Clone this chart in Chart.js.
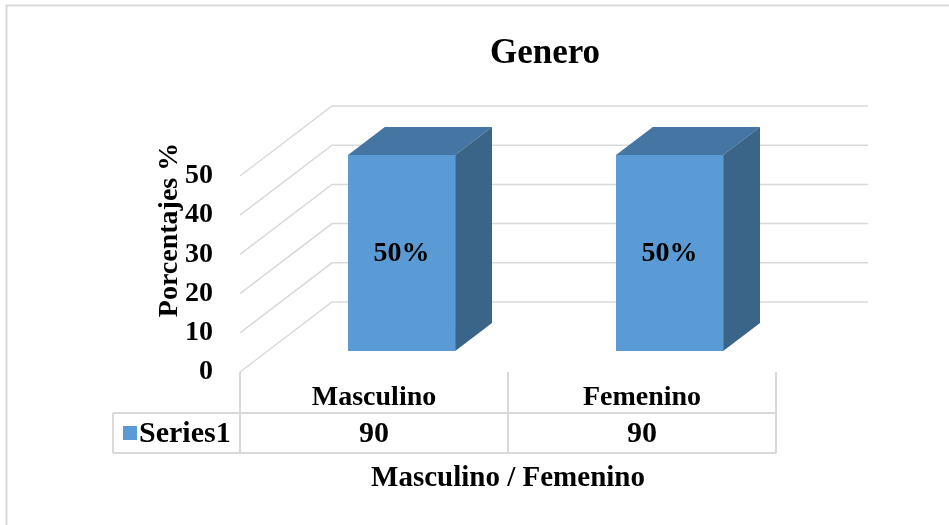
<!DOCTYPE html>
<html>
<head>
<meta charset="utf-8">
<script src="https://cdn.jsdelivr.net/npm/chart.js@4/dist/chart.umd.min.js"></script>
<style>
  html, body { margin: 0; padding: 0; background: #fff; }
  #wrap { width: 949px; height: 525px; position: relative; }
</style>
</head>
<body>
<div id="wrap"><canvas id="c" width="949" height="525"></canvas></div>
<script>
// ---- data ----
const chartTitle = 'Genero';
const categories = ['Masculino', 'Femenino'];
const seriesName = 'Series1';
const values = [90, 90];
const yTitle = 'Porcentajes %';
const xTitle = 'Masculino / Femenino';
const yMin = 0;
const yMax = 50;
const yStep = 10;

// ---- style ----
const FONT = '"Liberation Serif", "Times New Roman", serif';
const FRONT_COLOR = '#5B9BD5';
const TOP_COLOR = '#4575A2';
const SIDE_COLOR = '#3A6488';
const GRID_COLOR = '#d9d9d9';
const DEPTH = { dx: 92, dy: -70 };
const BAR_FRONT = 0.3, BAR_BACK = 0.7;

const total = values.reduce((s, v) => s + v, 0);

const threeD = {
  id: 'threeD',
  beforeDraw(chart) {
    const { ctx, width, height } = chart;
    ctx.save();
    ctx.fillStyle = '#fff';
    ctx.fillRect(0, 0, width, height);
    ctx.strokeStyle = GRID_COLOR;
    ctx.lineWidth = 2;
    ctx.strokeRect(6.5, 5.5, width + 20, height + 20);
    ctx.restore();
  },
  beforeDatasetsDraw(chart) {
    const { ctx, chartArea: a, scales: { y } } = chart;
    ctx.save();
    ctx.strokeStyle = GRID_COLOR;
    ctx.lineWidth = 1.5;
    y.ticks.forEach(t => {
      const py = y.getPixelForValue(t.value);
      ctx.beginPath();
      ctx.moveTo(a.left, py);
      ctx.lineTo(a.left + DEPTH.dx, py + DEPTH.dy);
      ctx.lineTo(a.right + DEPTH.dx, py + DEPTH.dy);
      ctx.stroke();
    });
    ctx.restore();
    ctx.save();
    ctx.translate(DEPTH.dx * BAR_FRONT, DEPTH.dy * BAR_FRONT);
  },
  afterDatasetsDraw(chart) {
    const { ctx, chartArea: a } = chart;
    ctx.restore();
    const meta = chart.getDatasetMeta(0);
    const fx = DEPTH.dx * BAR_FRONT, fy = DEPTH.dy * BAR_FRONT;
    const bx = DEPTH.dx * (BAR_BACK - BAR_FRONT), by = DEPTH.dy * (BAR_BACK - BAR_FRONT);
    ctx.save();
    meta.data.forEach((bar, i) => {
      const p = bar.getProps(['x', 'y', 'base', 'width'], true);
      const top = Math.max(p.y, a.top) + fy;
      const bottom = p.base + fy;
      const left = p.x - p.width / 2 + fx, right = p.x + p.width / 2 + fx;
      ctx.fillStyle = TOP_COLOR;
      ctx.beginPath();
      ctx.moveTo(left, top);
      ctx.lineTo(left + bx, top + by);
      ctx.lineTo(right + bx, top + by);
      ctx.lineTo(right, top);
      ctx.closePath();
      ctx.fill();
      ctx.fillStyle = SIDE_COLOR;
      ctx.beginPath();
      ctx.moveTo(right, top);
      ctx.lineTo(right + bx, top + by);
      ctx.lineTo(right + bx, bottom + by);
      ctx.lineTo(right, bottom);
      ctx.closePath();
      ctx.fill();
      // data label (share of total)
      const pct = Math.round(values[i] / total * 100) + '%';
      ctx.fillStyle = '#000';
      ctx.font = 'bold 28px ' + FONT;
      ctx.textAlign = 'center';
      ctx.textBaseline = 'middle';
      ctx.fillText(pct, (left + right) / 2, (top + bottom) / 2 + 1);
    });
    ctx.restore();
  },
  afterDraw(chart) {
    const { ctx, chartArea: a } = chart;
    const n = categories.length;
    const catW = (a.right - a.left) / n;
    const tableLeft = 113, row1Bottom = 413, row2Bottom = 453;
    ctx.save();
    // chart title
    ctx.fillStyle = '#000';
    ctx.font = 'bold 35px ' + FONT;
    ctx.textAlign = 'center';
    ctx.textBaseline = 'middle';
    ctx.fillText(chartTitle, 545, 54);
    // data table
    ctx.strokeStyle = GRID_COLOR;
    ctx.lineWidth = 2;
    ctx.beginPath();
    ctx.moveTo(tableLeft, row1Bottom); ctx.lineTo(a.right, row1Bottom);
    ctx.moveTo(tableLeft, row2Bottom); ctx.lineTo(a.right, row2Bottom);
    ctx.moveTo(tableLeft, row1Bottom); ctx.lineTo(tableLeft, row2Bottom);
    for (let k = 0; k <= n; k++) {
      const px = a.left + k * catW;
      ctx.moveTo(px, a.bottom); ctx.lineTo(px, row2Bottom);
    }
    ctx.stroke();
    // legend key + series name
    const rowMid = (row1Bottom + row2Bottom) / 2;
    ctx.fillStyle = FRONT_COLOR;
    ctx.fillRect(123, rowMid - 7, 14, 14);
    ctx.fillStyle = '#000';
    ctx.font = 'bold 30px ' + FONT;
    ctx.textBaseline = 'middle';
    ctx.textAlign = 'left';
    ctx.fillText(seriesName, 139, rowMid + 1);
    ctx.textAlign = 'center';
    values.forEach((v, i) => {
      ctx.fillText(String(v), a.left + (i + 0.5) * catW, rowMid + 1);
    });
    // y axis title
    ctx.font = 'bold 28px ' + FONT;
    ctx.translate(170, 230);
    ctx.rotate(-Math.PI / 2);
    ctx.fillText(yTitle, 0, 0);
    ctx.restore();
  }
};

Chart.defaults.font.family = FONT;
Chart.defaults.color = '#000';

new Chart(document.getElementById('c'), {
  type: 'bar',
  data: {
    labels: categories,
    datasets: [{
      label: seriesName,
      data: values,
      backgroundColor: FRONT_COLOR,
      borderWidth: 0,
      barPercentage: 0.4,
      categoryPercentage: 1,
      clip: 0
    }]
  },
  options: {
    responsive: false,
    animation: false,
    layout: { padding: { left: 0, right: 173, top: 176, bottom: 0 } },
    plugins: {
      legend: { display: false },
      tooltip: { enabled: false },
      title: { display: false }
    },
    scales: {
      x: {
        offset: true,
        grid: { display: false, drawTicks: false, drawOnChartArea: false },
        border: { display: false },
        ticks: { padding: 9, font: { size: 28, weight: 'bold' }, color: '#000', maxRotation: 0 },
        title: {
          display: true,
          text: xTitle,
          color: '#000',
          font: { size: 29, weight: 'bold' },
          padding: { top: 0, bottom: 29 }
        },
        afterFit(s) { s.height = 153; }
      },
      y: {
        min: yMin,
        max: yMax,
        grid: { display: false, drawTicks: false },
        border: { display: false },
        ticks: { stepSize: yStep, padding: 27, font: { size: 28, weight: 'bold' }, color: '#000' },
        afterFit(s) { s.width = 240; }
      }
    }
  },
  plugins: [threeD]
});
</script>
</body>
</html>
